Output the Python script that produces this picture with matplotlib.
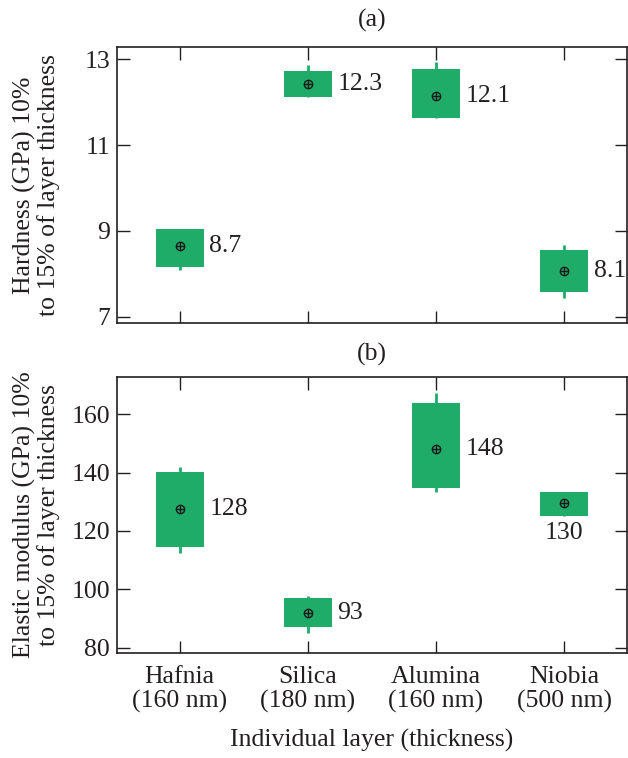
import matplotlib
matplotlib.use("Agg")
import matplotlib.pyplot as plt

plt.rcParams['font.family'] = ['Liberation Serif', 'DejaVu Serif']
plt.rcParams['mathtext.fontset'] = 'stix'

# data
materials = ['Hafnia\n(160 nm)', 'Silica\n(180 nm)', 'Alumina\n(160 nm)', 'Niobia\n(500 nm)']

hard_mean = [8.64, 12.41, 12.14, 8.07]
hard_q1 = [8.17, 12.12, 11.62, 7.59]
hard_q3 = [9.05, 12.73, 12.76, 8.56]
hard_lo = [8.09, 12.12, 11.62, 7.43]
hard_hi = [9.05, 12.86, 12.92, 8.67]
hard_text = ['8.7', '12.3', '12.1', '8.1']

mod_mean = [127.6, 92.0, 148.1, 129.4]
mod_q1 = [114.6, 87.0, 134.6, 125.1]
mod_q3 = [140.2, 96.9, 163.7, 133.4]
mod_lo = [112.3, 85.2, 133.3, 125.1]
mod_hi = [142.0, 97.7, 167.1, 133.4]
mod_text = ['128', '93', '148', '130']

green = '#1fab68'
ink = '#231f20'
fs = 18.5

fig = plt.figure(figsize=(6.28, 7.58), dpi=100)
ax1 = fig.add_axes([0.1863, 0.5739, 0.812, 0.3641])
ax2 = fig.add_axes([0.1863, 0.1385, 0.812, 0.3641])

x = [1, 2, 3, 4]
w = 0.375


def draw_panel(ax, mean, q1, q3, lo, hi, labels, below=()):
    ax.vlines(x, lo, hi, color=green, lw=2, zorder=1)
    ax.bar(x, [b - a for a, b in zip(q1, q3)], bottom=q1, width=w,
           color=green, edgecolor='none', zorder=2)
    ax.plot(x, mean, 'o', ms=6, mfc='none', mec='#1a1a1a', mew=1.0, zorder=3)
    ax.plot(x, mean, '+', ms=6, mec='#1a1a1a', mew=1.0, zorder=3)
    for i, t in enumerate(labels):
        if i in below:
            ax.annotate(t, (x[i], q1[i]), xytext=(0, -4), textcoords='offset points',
                        ha='center', va='top', fontsize=fs, color=ink)
        else:
            ax.annotate(t, (x[i] + w / 2, mean[i]), xytext=(4, 0),
                        textcoords='offset points', ha='left', va='center',
                        fontsize=fs, color=ink)
    ax.set_xlim(0.51, 4.49)
    ax.set_xticks(x)
    ax.tick_params(direction='in', length=9, width=1, top=True, right=True,
                   labelsize=fs, colors=ink, pad=5)
    ax.tick_params(axis='x', pad=9)
    for s in ax.spines.values():
        s.set_linewidth(1.2)
        s.set_color(ink)


draw_panel(ax1, hard_mean, hard_q1, hard_q3, hard_lo, hard_hi, hard_text)
ax1.set_ylim(6.86, 13.28)
ax1.set_yticks([7, 9, 11, 13])
ax1.set_xticklabels([])
ax1.set_title('(a)', fontsize=fs, pad=15, color=ink)
ax1.set_ylabel('Hardness (GPa) 10%\nto 15% of layer thickness', fontsize=fs,
               linespacing=1.05, color=ink)
ax1.yaxis.set_label_coords(-0.112, 0.5)

draw_panel(ax2, mod_mean, mod_q1, mod_q3, mod_lo, mod_hi, mod_text, below=(3,))
ax2.set_ylim(78.2, 172.7)
ax2.set_yticks([80, 100, 120, 140, 160])
ax2.set_xticklabels(materials, linespacing=1.15)
ax2.set_title('(b)', fontsize=fs, pad=12, color=ink)
ax2.set_ylabel('Elastic modulus (GPa) 10%\nto 15% of layer thickness', fontsize=fs,
               linespacing=1.05, color=ink)
ax2.yaxis.set_label_coords(-0.112, 0.5)
ax2.set_xlabel('Individual layer (thickness)', fontsize=fs, labelpad=11,
               color=ink)

fig.savefig('out.png', dpi=100)
